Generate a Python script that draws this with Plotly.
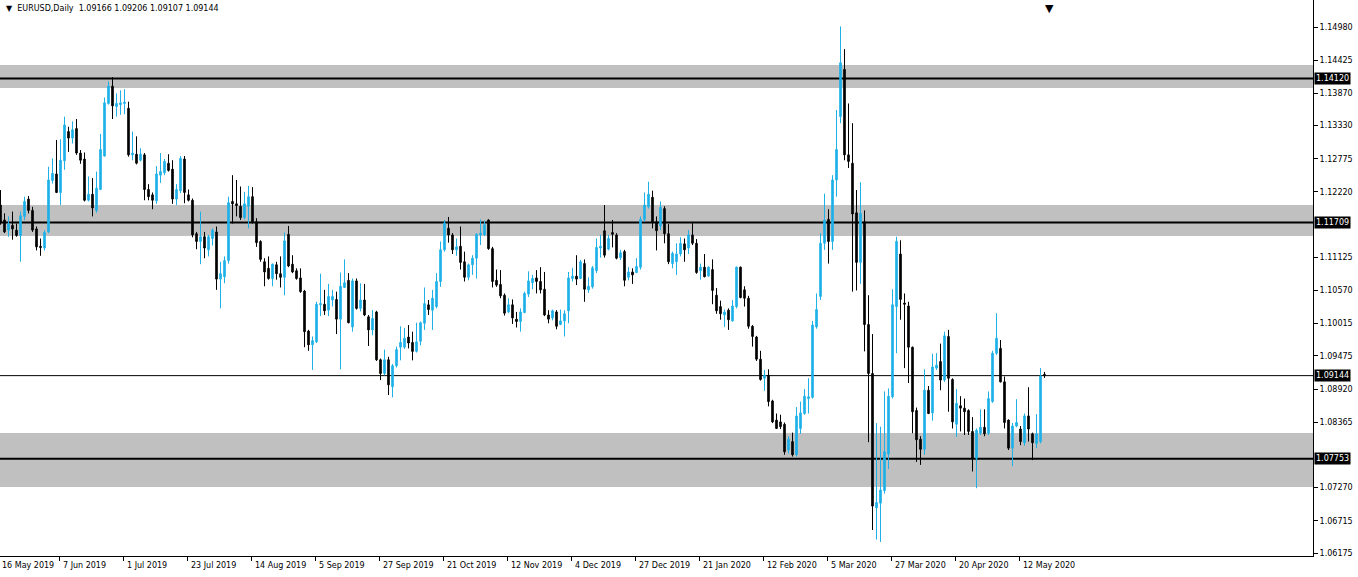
import plotly.graph_objects as go

# ---------------- data (EURUSD Daily, one value per bar) ----------------
open_ = [
    1.1200, 1.1175, 1.1158, 1.1166, 1.1158, 1.1149, 1.1181, 1.1210, 1.1191, 1.1160,
    1.1131, 1.1128, 1.1155, 1.1241, 1.1252, 1.1221, 1.1274, 1.1323, 1.1312, 1.1328,
    1.1287, 1.1277, 1.1208, 1.1218, 1.1191, 1.1226, 1.1282, 1.1370, 1.1399, 1.1365,
    1.1368, 1.1370, 1.1362, 1.1284, 1.1285, 1.1275, 1.1284, 1.1226, 1.1217, 1.1207,
    1.1250, 1.1254, 1.1270, 1.1260, 1.1210, 1.1224, 1.1277, 1.1217, 1.1208, 1.1152,
    1.1139, 1.1147, 1.1125, 1.1144, 1.1155, 1.1076, 1.1080, 1.1107, 1.1206, 1.1202,
    1.1198, 1.1179, 1.1198, 1.1214, 1.1172, 1.1139, 1.1105, 1.1094, 1.1077, 1.1100,
    1.1085, 1.1079, 1.1151, 1.1101, 1.1090, 1.1078, 1.1056, 1.0989, 1.0966, 1.0971,
    1.1033, 1.1034, 1.1024, 1.1041, 1.1042, 1.1009, 1.1062, 1.1074, 1.0996, 1.1073,
    1.1027, 1.1041, 1.1013, 1.0991, 1.1021, 1.0941, 1.0918, 1.0941, 1.0896, 1.0931,
    1.0962, 1.0962, 1.0979, 1.0970, 1.0955, 1.0972, 1.1002, 1.1033, 1.1024, 1.1030,
    1.1072, 1.1125, 1.1161, 1.1150, 1.1125, 1.1131, 1.1105, 1.1079, 1.1100, 1.1111,
    1.1150, 1.1150, 1.1175, 1.1127, 1.1074, 1.1067, 1.1049, 1.1021, 1.1033, 1.1009,
    1.1005, 1.1020, 1.1051, 1.1070, 1.1078, 1.1072, 1.1059, 1.1016, 1.1011, 1.1021,
    1.1000, 1.1006, 1.1023, 1.1077, 1.1081, 1.1077, 1.1102, 1.1058, 1.1063, 1.1090,
    1.1128, 1.1157, 1.1126, 1.1154, 1.1150, 1.1112, 1.1122, 1.1079, 1.1088, 1.1087,
    1.1096, 1.1176, 1.1197, 1.1213, 1.1172, 1.1165, 1.1194, 1.1152, 1.1102, 1.1105,
    1.1118, 1.1135, 1.1128, 1.1150, 1.1136, 1.1090, 1.1096, 1.1081, 1.1092, 1.1049,
    1.1030, 1.1016, 1.1024, 1.1006, 1.1030, 1.1096, 1.1058, 1.1044, 1.0997, 1.0979,
    1.0942, 1.0910, 1.0915, 1.0872, 1.0840, 1.0837, 1.0833, 1.0790, 1.0804, 1.0782,
    1.0826, 1.0851, 1.0876, 1.0878, 1.0996, 1.1047, 1.1136, 1.1176, 1.1139, 1.1242,
    1.1348, 1.1427, 1.1284, 1.1270, 1.1187, 1.1104, 1.1172, 1.1000, 1.0918, 1.0693,
    1.0701, 1.0722, 1.0783, 1.0879, 1.1030, 1.1118, 1.1036, 1.1031, 1.0962, 1.0856,
    1.0808, 1.0791, 1.0890, 1.0852, 1.0927, 1.0938, 1.0907, 1.0980, 1.0908, 1.0833,
    1.0864, 1.0860, 1.0856, 1.0821, 1.0776, 1.0818, 1.0828, 1.0818, 1.0871, 1.0952,
    1.0960, 1.0904, 1.0840, 1.0793, 1.0830, 1.0825, 1.0802, 1.0847, 1.0817, 1.0801,
    1.0804, 1.09166,
]
high = [
    1.1225, 1.1186, 1.1181, 1.1189, 1.1169, 1.1189, 1.1214, 1.1215, 1.1197, 1.1164,
    1.1144, 1.1158, 1.1264, 1.1278, 1.1309, 1.1310, 1.1348, 1.1331, 1.1340, 1.1344,
    1.1292, 1.1288, 1.1248, 1.1245, 1.1256, 1.1319, 1.1380, 1.1407, 1.1414, 1.1387,
    1.1392, 1.1394, 1.1373, 1.1323, 1.1315, 1.1295, 1.1287, 1.1235, 1.1221, 1.1265,
    1.1287, 1.1277, 1.1285, 1.1275, 1.1235, 1.1282, 1.1282, 1.1226, 1.1211, 1.1155,
    1.1189, 1.1155, 1.1150, 1.1161, 1.1164, 1.1105, 1.1114, 1.1214, 1.1250, 1.1242,
    1.1231, 1.1222, 1.1232, 1.1230, 1.1178, 1.1141, 1.1111, 1.1114, 1.1102, 1.1105,
    1.1114, 1.1154, 1.1165, 1.1116, 1.1094, 1.1094, 1.1058, 1.0991, 1.0980, 1.1038,
    1.1085, 1.1058, 1.1068, 1.1058, 1.1055, 1.1087, 1.1109, 1.1086, 1.1077, 1.1077,
    1.1069, 1.1068, 1.1016, 1.1024, 1.1023, 1.0943, 1.0958, 1.0946, 1.0934, 1.0963,
    1.0997, 1.0994, 1.0999, 1.0988, 1.1003, 1.1005, 1.1062, 1.1041, 1.1058, 1.1086,
    1.1139, 1.1175, 1.1180, 1.1153, 1.1144, 1.1164, 1.1122, 1.1102, 1.1116, 1.1153,
    1.1176, 1.1174, 1.1176, 1.1130, 1.1092, 1.1091, 1.1052, 1.1044, 1.1042, 1.1021,
    1.1027, 1.1055, 1.1089, 1.1083, 1.1091, 1.1096, 1.1088, 1.1024, 1.1025, 1.1024,
    1.1025, 1.1024, 1.1088, 1.1095, 1.1116, 1.1108, 1.1109, 1.1079, 1.1098, 1.1144,
    1.1150, 1.1200, 1.1150, 1.1175, 1.1153, 1.1125, 1.1125, 1.1096, 1.1094, 1.1111,
    1.1181, 1.1221, 1.1239, 1.1224, 1.1181, 1.1206, 1.1198, 1.1168, 1.1122, 1.1136,
    1.1146, 1.1144, 1.1158, 1.1172, 1.1143, 1.1102, 1.1118, 1.1097, 1.1109, 1.1061,
    1.1040, 1.1025, 1.1027, 1.1041, 1.1097, 1.1097, 1.1064, 1.1048, 1.0999, 1.0981,
    1.0956, 1.0924, 1.0925, 1.0874, 1.0851, 1.0849, 1.0836, 1.0813, 1.0819, 1.0862,
    1.0871, 1.0892, 1.0910, 1.1006, 1.1052, 1.1153, 1.1219, 1.1193, 1.1250, 1.1359,
    1.1499, 1.1461, 1.1370, 1.1337, 1.1225, 1.1238, 1.1191, 1.1049, 1.0984, 1.0835,
    1.0829, 1.0888, 1.0893, 1.1059, 1.1147, 1.1141, 1.1052, 1.1038, 1.0963, 1.0861,
    1.0813, 1.0925, 1.0897, 1.0951, 1.0952, 1.0968, 1.0988, 1.0991, 1.0910, 1.0892,
    1.0880, 1.0876, 1.0858, 1.0845, 1.0826, 1.0858, 1.0858, 1.0888, 1.0956, 1.1019,
    1.0974, 1.0913, 1.0841, 1.0835, 1.0875, 1.0830, 1.0851, 1.0895, 1.0819, 1.0850,
    1.0927, 1.09206,
]
low = [
    1.1167, 1.1153, 1.1147, 1.1142, 1.1147, 1.1105, 1.1175, 1.1186, 1.1155, 1.1124,
    1.1115, 1.1124, 1.1153, 1.1236, 1.1220, 1.1200, 1.1259, 1.1289, 1.1303, 1.1284,
    1.1269, 1.1206, 1.1206, 1.1181, 1.1187, 1.1225, 1.1281, 1.1368, 1.1344, 1.1348,
    1.1351, 1.1352, 1.1281, 1.1275, 1.1268, 1.1273, 1.1208, 1.1208, 1.1193, 1.1202,
    1.1237, 1.1250, 1.1256, 1.1202, 1.1200, 1.1220, 1.1203, 1.1206, 1.1146, 1.1126,
    1.1101, 1.1111, 1.1114, 1.1132, 1.1058, 1.1027, 1.1069, 1.1102, 1.1169, 1.1181,
    1.1175, 1.1176, 1.1161, 1.1169, 1.1130, 1.1105, 1.1064, 1.1075, 1.1064, 1.1075,
    1.1062, 1.1049, 1.1096, 1.1086, 1.1075, 1.1053, 1.0962, 1.0956, 1.0924, 1.0969,
    1.1014, 1.1016, 1.1014, 1.1030, 1.0984, 1.0925, 1.1061, 1.1002, 1.0988, 1.1025,
    1.1022, 1.1014, 1.0964, 1.0982, 1.0939, 1.0907, 1.0915, 1.0882, 1.0878, 1.0928,
    1.0940, 1.0959, 1.0960, 1.0940, 1.0953, 1.0965, 1.0991, 1.1016, 1.0991, 1.1027,
    1.1063, 1.1122, 1.1137, 1.1118, 1.1115, 1.1092, 1.1072, 1.1074, 1.1083, 1.1077,
    1.1133, 1.1148, 1.1125, 1.1062, 1.1063, 1.1044, 1.1015, 1.1019, 1.1001, 1.0995,
    1.0988, 1.1019, 1.1046, 1.1059, 1.1052, 1.1052, 1.1014, 1.1002, 1.1007, 1.0992,
    1.0999, 1.0980, 1.1002, 1.1072, 1.1066, 1.1076, 1.1038, 1.1053, 1.1060, 1.1086,
    1.1112, 1.1112, 1.1124, 1.1129, 1.1109, 1.1108, 1.1064, 1.1074, 1.1068, 1.1086,
    1.1092, 1.1172, 1.1194, 1.1161, 1.1124, 1.1158, 1.1136, 1.1101, 1.1094, 1.1083,
    1.1114, 1.1105, 1.1118, 1.1133, 1.1085, 1.1075, 1.1079, 1.1080, 1.1034, 1.1018,
    1.1008, 1.0996, 1.0991, 1.1005, 1.1027, 1.1044, 1.1030, 1.0993, 1.0963, 1.0939,
    1.0906, 1.0889, 1.0863, 1.0835, 1.0825, 1.0825, 1.0782, 1.0784, 1.0779, 1.0779,
    1.0817, 1.0849, 1.0851, 1.0876, 1.0993, 1.1041, 1.1125, 1.1102, 1.1125, 1.1214,
    1.1337, 1.1275, 1.1262, 1.1055, 1.1057, 1.1068, 1.0955, 1.0803, 1.0656, 1.0640,
    1.0636, 1.0717, 1.0758, 1.0876, 1.0952, 1.1008, 1.0927, 1.0902, 1.0818, 1.0770,
    1.0765, 1.0782, 1.0850, 1.0839, 1.0924, 1.0890, 1.0904, 1.0854, 1.0826, 1.0812,
    1.0821, 1.0815, 1.0815, 1.0754, 1.0726, 1.0815, 1.0813, 1.0815, 1.0869, 1.0949,
    1.0903, 1.0826, 1.0790, 1.0763, 1.0828, 1.0798, 1.0797, 1.0804, 1.0773, 1.0793,
    1.0801, 1.09107,
]
close = [
    1.1170, 1.1155, 1.1169, 1.1160, 1.1149, 1.1182, 1.1206, 1.1191, 1.1158, 1.1130,
    1.1129, 1.1154, 1.1242, 1.1253, 1.1221, 1.1275, 1.1334, 1.1312, 1.1326, 1.1287,
    1.1275, 1.1208, 1.1218, 1.1195, 1.1228, 1.1293, 1.1371, 1.1399, 1.1366, 1.1370,
    1.1371, 1.1372, 1.1284, 1.1287, 1.1270, 1.1285, 1.1226, 1.1214, 1.1208, 1.1252,
    1.1256, 1.1273, 1.1258, 1.1210, 1.1226, 1.1278, 1.1221, 1.1208, 1.1150, 1.1139,
    1.1147, 1.1128, 1.1147, 1.1158, 1.1076, 1.1085, 1.1107, 1.1204, 1.1202, 1.1199,
    1.1179, 1.1202, 1.1214, 1.1172, 1.1137, 1.1109, 1.1088, 1.1077, 1.1101, 1.1085,
    1.1079, 1.1140, 1.1098, 1.1088, 1.1077, 1.1055, 1.0988, 1.0966, 1.0973, 1.1034,
    1.1035, 1.1023, 1.1047, 1.1047, 1.1009, 1.1064, 1.1070, 1.1003, 1.1073, 1.1027,
    1.1041, 1.1016, 1.0991, 1.1010, 1.0941, 1.0918, 1.0941, 1.0899, 1.0931, 1.0958,
    1.0970, 1.0977, 1.0969, 1.0955, 1.0971, 1.1003, 1.1035, 1.1025, 1.1044, 1.1072,
    1.1125, 1.1170, 1.1150, 1.1125, 1.1130, 1.1104, 1.1079, 1.1100, 1.1111, 1.1151,
    1.1153, 1.1167, 1.1127, 1.1072, 1.1066, 1.1048, 1.1019, 1.1033, 1.1011, 1.1005,
    1.1021, 1.1052, 1.1073, 1.1077, 1.1072, 1.1058, 1.1016, 1.1009, 1.1023, 1.0997,
    1.1006, 1.1018, 1.1078, 1.1081, 1.1076, 1.1105, 1.1059, 1.1064, 1.1095, 1.1129,
    1.1131, 1.1116, 1.1144, 1.1151, 1.1111, 1.1120, 1.1074, 1.1088, 1.1083, 1.1097,
    1.1176, 1.1200, 1.1218, 1.1172, 1.1157, 1.1196, 1.1152, 1.1105, 1.1119, 1.1118,
    1.1136, 1.1125, 1.1150, 1.1136, 1.1087, 1.1096, 1.1080, 1.1096, 1.1057, 1.1023,
    1.1018, 1.1021, 1.1008, 1.1031, 1.1096, 1.1045, 1.1044, 1.0997, 1.0980, 1.0942,
    1.0908, 1.0915, 1.0871, 1.0837, 1.0826, 1.0829, 1.0787, 1.0808, 1.0782, 1.0847,
    1.0852, 1.0880, 1.0879, 1.0999, 1.1025, 1.1136, 1.1175, 1.1139, 1.1242, 1.1293,
    1.1438, 1.1284, 1.1273, 1.1185, 1.1104, 1.1186, 1.1000, 1.0918, 1.0696, 1.0702,
    1.0723, 1.0787, 1.0880, 1.1033, 1.1139, 1.1042, 1.1034, 1.0962, 1.0854, 1.0807,
    1.0791, 1.0890, 1.0851, 1.0929, 1.0932, 1.0907, 1.0981, 1.0910, 1.0837, 1.0868,
    1.0860, 1.0854, 1.0821, 1.0776, 1.0823, 1.0828, 1.0817, 1.0876, 1.0952, 1.0977,
    1.0904, 1.0836, 1.0793, 1.0830, 1.0836, 1.0804, 1.0847, 1.0825, 1.0802, 1.0817,
    1.0914, 1.09144,
]

date_labels = ["16 May 2019", "7 Jun 2019", "1 Jul 2019", "23 Jul 2019", "14 Aug 2019",
               "5 Sep 2019", "27 Sep 2019", "21 Oct 2019", "12 Nov 2019", "4 Dec 2019",
               "27 Dec 2019", "21 Jan 2020", "12 Feb 2020", "5 Mar 2020", "27 Mar 2020",
               "20 Apr 2020", "12 May 2020"]
label_step = 16  # bars between date labels

price_ticks = [1.14980, 1.14425, 1.13870, 1.13330, 1.12775, 1.12220, 1.11125,
               1.10570, 1.10015, 1.09475, 1.08920, 1.08365, 1.07270, 1.06715, 1.06175]
price_tick_text = ["1.14980", "1.14425", "1.13870", "1.13330", "1.12775", "1.12220", "1.11125",
                   "1.10570", "1.10015", "1.09475", "1.08920", "1.08365", "1.07270", "1.06715", "1.06175"]

zone_levels = [1.14120, 1.11709, 1.07753]
zone_low = [1.13959, 1.11482, 1.07280]
zone_high = [1.14344, 1.12000, 1.08184]
current_price = 1.09144
title_text = "EURUSD,Daily"
last_ohlc = ["1.09166", "1.09206", "1.09107", "1.09144"]

# ---------------- styling ----------------
BLUE = "#1DB1E8"
GREY = "#C0C0C0"
FONT = "DejaVu Sans"

n = len(close)
xs = list(range(n))

fig = go.Figure()
fig.add_trace(go.Candlestick(
    x=xs, open=open_, high=high, low=low, close=close,
    increasing=dict(line=dict(color=BLUE, width=1), fillcolor=BLUE),
    decreasing=dict(line=dict(color="black", width=1), fillcolor="black"),
    whiskerwidth=0, hoverinfo="skip", showlegend=False,
))

shapes = []
for lo, hi in zip(zone_low, zone_high):
    shapes.append(dict(type="rect", xref="paper", yref="y", x0=0, x1=1, y0=lo, y1=hi,
                       fillcolor=GREY, line=dict(width=0), layer="below"))
for lv in zone_levels:
    shapes.append(dict(type="line", xref="paper", yref="y", x0=0, x1=1, y0=lv, y1=lv,
                       line=dict(color="black", width=2), layer="below"))
shapes.append(dict(type="line", xref="paper", yref="y", x0=0, x1=1, y0=current_price, y1=current_price,
                   line=dict(color="black", width=1), layer="below"))

annotations = []
# date labels (left aligned after the tick, MT4 style)
label_pos = [k * label_step for k in range(len(date_labels))]
for pos, txt in zip(label_pos, date_labels):
    annotations.append(dict(x=max(pos - 0.8, -0.1), xref="x", y=0, yref="paper", text=txt,
                            showarrow=False, xanchor="left", yanchor="top", yshift=-3,
                            font=dict(family=FONT, size=8, color="black")))
# highlighted price labels
for lv in zone_levels + [current_price]:
    annotations.append(dict(x=1, xref="paper", y=lv, yref="y", text="%.5f" % lv,
                            showarrow=False, xanchor="left", yanchor="middle", xshift=1,
                            bgcolor="black", borderpad=1,
                            font=dict(family=FONT, size=8, color="white")))
# title
annotations.append(dict(x=0, xref="paper", y=1, yref="paper",
                        text="\u25bc\u00a0\u00a0" + title_text + "\u00a0\u00a0" + "\u00a0".join(last_ohlc),
                        showarrow=False, xanchor="left", yanchor="top", xshift=4, yshift=-2,
                        font=dict(family=FONT, size=8, color="black")))
# chart shift marker
annotations.append(dict(x=n + 0.2, xref="x", y=1, yref="paper", text="\u25bc",
                        showarrow=False, xanchor="center", yanchor="top", yshift=0,
                        font=dict(family=FONT, size=11, color="black")))

fig.update_layout(
    width=1358, height=577,
    margin=dict(l=0, r=45, t=0, b=21),
    paper_bgcolor="white", plot_bgcolor="white",
    showlegend=False, boxgap=0.45,
    shapes=shapes, annotations=annotations,
    xaxis=dict(range=[-0.125, 328.125], rangeslider=dict(visible=False),
               showgrid=False, zeroline=False, showline=True, linecolor="black", linewidth=1,
               ticks="outside", ticklen=4, tickcolor="black", tickwidth=1,
               tickvals=[p - 1.2 for p in label_pos[1:]], showticklabels=False, fixedrange=True),
    yaxis=dict(side="right", range=[1.06125, 1.15432], showgrid=False, zeroline=False,
               showline=True, linecolor="black", linewidth=1,
               ticks="outside", ticklen=4, tickcolor="black", tickwidth=1,
               tickvals=price_ticks, ticktext=price_tick_text,
               tickfont=dict(family=FONT, size=8, color="black"), fixedrange=True),
)

fig.write_html("out.html", config={"displayModeBar": False},
               post_script="document.body.style.margin='0px';document.body.style.padding='0px';")
